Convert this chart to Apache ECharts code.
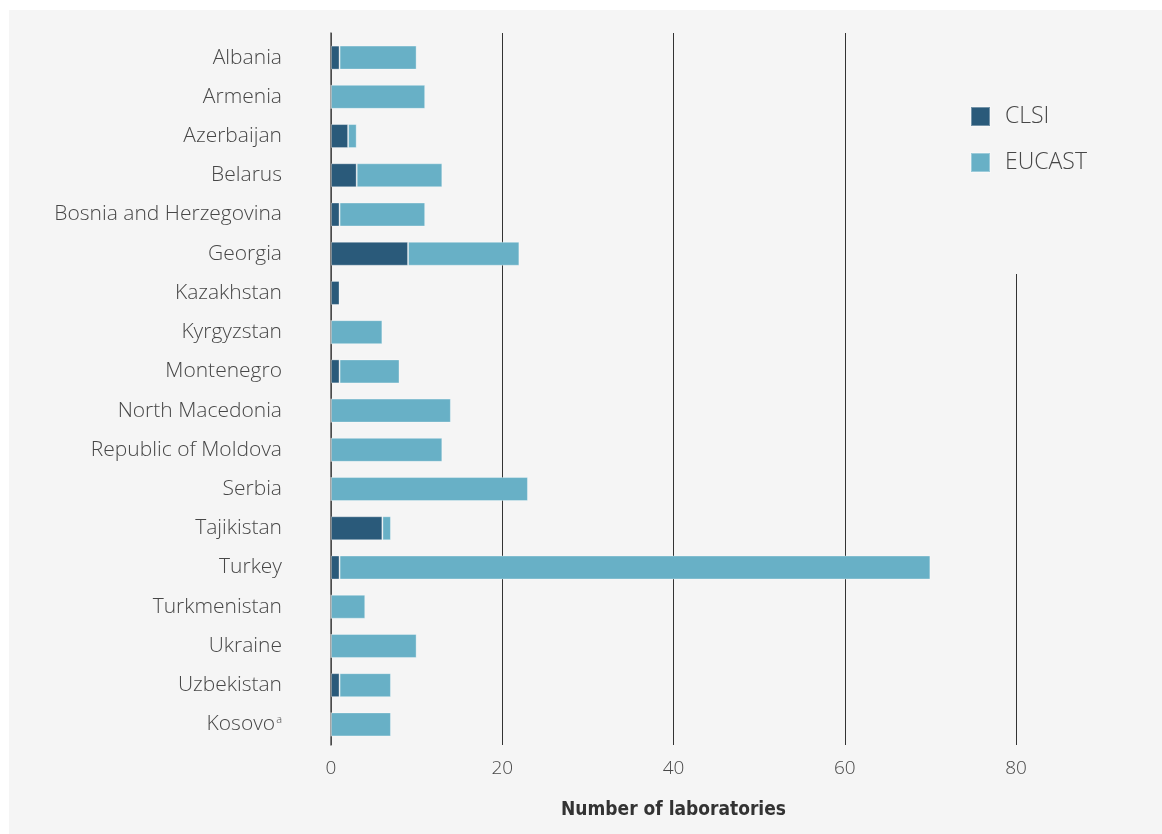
<!DOCTYPE html>
<html><head><meta charset="utf-8">
<script src="https://cdn.jsdelivr.net/npm/echarts@6/dist/echarts.min.js"></script>
<style>
html,body{margin:0;padding:0;background:#fff;width:1162px;height:834px;overflow:hidden;}
#c{position:absolute;left:9px;top:10px;width:1153px;height:824px;background:#f5f5f5;}
</style></head><body><div id="c"></div>
<script>
const categories = ["Albania","Armenia","Azerbaijan","Belarus","Bosnia and Herzegovina","Georgia","Kazakhstan","Kyrgyzstan","Montenegro","North Macedonia","Republic of Moldova","Serbia","Tajikistan","Turkey","Turkmenistan","Ukraine","Uzbekistan","Kosovo"];
const clsi   = [1,0,2,3,1,9,1,0,1,0,0,0,6,1,0,0,1,0];
const eucast = [9,11,1,10,10,13,0,6,7,14,13,23,1,69,4,10,6,7];
const xTicks = [0,20,40,60,80];

const chart = echarts.init(document.getElementById('c'));
const FONT = '"Open Sans"';
const txt = '#474747';
chart.setOption({
  backgroundColor: '#f5f5f5',
  animation: false,
  legend: {
    orient: 'vertical', left: 955, top: 23,
    padding: [72, 6, 100, 6],
    backgroundColor: '#f5f5f5',
    itemWidth: 19, itemHeight: 19, itemGap: 23,
    icon: 'rect',
    textStyle: {fontFamily: FONT, fontWeight: 300, fontSize: 23, color: txt, padding: [0,0,0,10]},
    data: ['CLSI','EUCAST']
  },
  grid: [
    {left: 322, right: 146, top: 28, bottom: 90},
    {left: 322, right: 146, top: 23, bottom: 89}
  ],
  xAxis: [
    {gridIndex: 0, type: 'value', min: 0, max: 80, interval: 20, show: false},
    {gridIndex: 1, type: 'value', min: xTicks[0], max: xTicks[xTicks.length-1], interval: 20,
     axisLine: {show: false}, axisTick: {show: false},
     splitLine: {show: true, lineStyle: {color: '#333', width: 1}},
     axisLabel: {fontFamily: FONT, fontWeight: 300, fontSize: 19, color: txt, margin: 14,
                 formatter: v => xTicks.includes(v) ? String(v) : ''},
     name: 'Number of laboratories', nameLocation: 'middle', nameGap: 56,
     nameTextStyle: {fontFamily: '"DejaVu Sans Condensed", Roboto', fontWeight: 'bold', fontSize: 19, color: '#333'}}
  ],
  yAxis: [
    {gridIndex: 0, type: 'category', data: categories, inverse: true,
     axisLine: {show: false}, axisTick: {show: false},
     axisLabel: {fontFamily: FONT, fontWeight: 300, fontSize: 21, color: txt, margin: 49,
       formatter: v => v === 'Kosovo' ? 'Kosovo{sup|a}' : v,
       rich: {sup: {fontFamily: FONT, fontWeight: 300, fontSize: 11, color: txt, verticalAlign: 'top', padding: [0,0,8,1]}}}},
    {gridIndex: 1, type: 'value', min: 0, max: 1, show: true,
     axisLine: {show: true, onZero: false, lineStyle: {color: '#555', width: 1.5}},
     axisTick: {show: false}, axisLabel: {show: false}, splitLine: {show: false}}
  ],
  series: [
    {name: 'CLSI', type: 'bar', stack: 'a', xAxisIndex: 0, yAxisIndex: 0, barWidth: 24,
     itemStyle: {color: '#2a5a7a', borderColor: 'rgba(255,255,255,0.35)', borderWidth: 1}, data: clsi, z: 3},
    {name: 'EUCAST', type: 'bar', stack: 'a', xAxisIndex: 0, yAxisIndex: 0, barWidth: 24,
     itemStyle: {color: '#68b0c6', borderColor: 'rgba(255,255,255,0.35)', borderWidth: 1}, data: eucast, z: 3}
  ]
});
</script></body></html>
